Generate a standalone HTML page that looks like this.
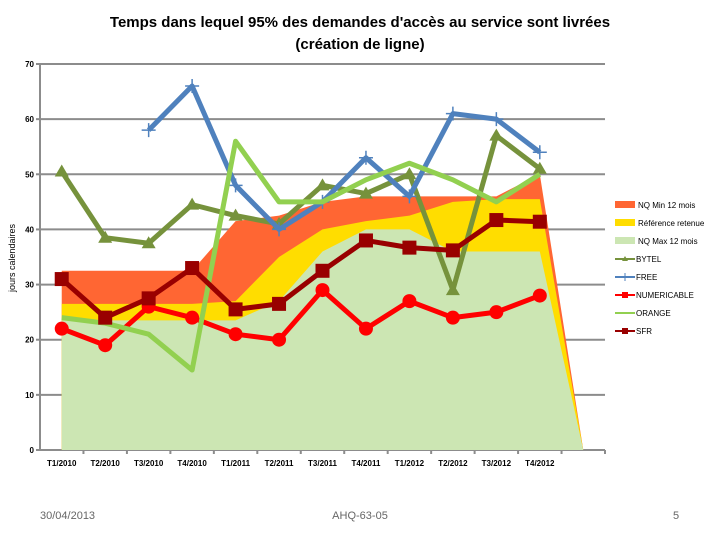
<!DOCTYPE html>
<html><head><meta charset="utf-8"><style>
body{margin:0;background:#fff;width:720px;height:540px;overflow:hidden;font-family:"Liberation Sans",sans-serif}
</style></head><body>
<svg width="720" height="540" xmlns="http://www.w3.org/2000/svg">
<text x="360" y="27" text-anchor="middle" font-size="15" font-weight="bold">Temps dans lequel 95% des demandes d'accès au service sont livrées</text>
<text x="360" y="49" text-anchor="middle" font-size="15" font-weight="bold">(création de ligne)</text>
<text transform="translate(15,258) rotate(-90)" text-anchor="middle" font-size="9">jours calendaires</text>
<g id="grid"></g><g id="areas"></g><g id="lines"></g><g id="axes"></g><g id="legend"></g>
<text x="40" y="519" font-size="11" fill="#666">30/04/2013</text>
<text x="360" y="519" font-size="11" fill="#666" text-anchor="middle">AHQ-63-05</text>
<text x="676" y="519" font-size="11" fill="#666" text-anchor="middle">5</text>
</svg>
<script>
const categories=["T1/2010","T2/2010","T3/2010","T4/2010","T1/2011","T2/2011","T3/2011","T4/2011","T1/2012","T2/2012","T3/2012","T4/2012",""];
const yTicks=[0,10,20,30,40,50,60,70];
const nqMin=[32.5,32.5,32.5,32.5,41.5,42.5,45,46,46,46,46,50,0];
const reference=[26.5,26.5,26.5,26.5,27,35,40,41.5,42.5,45,45.5,45.5,0];
const nqMax=[23.5,23.5,23.5,23.5,23.5,27,36,40,40,36,36,36,0];
const bytel=[50.5,38.5,37.5,44.5,42.5,41,48,46.5,50,29,57,51];
const free=[null,null,58,66,48,40,45,53,46,61,60,54];
const numericable=[22,19,26,24,21,20,29,22,27,24,25,28];
const orange=[24,23,21,14.5,56,45,45,49,52,49,45,50];
const sfr=[31,24,27.5,33,25.5,26.5,32.5,38,36.7,36.2,41.7,41.4];
const NS="http://www.w3.org/2000/svg";
const X0=40,X1=605,Y0=450,Y1=64;
const step=(X1-X0)/categories.length;
const xs=i=>X0+step*(i+0.5);
const ys=v=>Y0-(v/70)*(Y0-Y1);
function mk(tag,attrs,parent){const e=document.createElementNS(NS,tag);for(const k in attrs)e.setAttribute(k,attrs[k]);parent.appendChild(e);return e;}
const grid=document.getElementById('grid'),axes=document.getElementById('axes'),areas=document.getElementById('areas'),lines=document.getElementById('lines'),legend=document.getElementById('legend');
yTicks.forEach(t=>{
 const l=mk('line',{x1:X0,x2:X1,y1:ys(t),y2:ys(t),stroke:'#8c8c8c','stroke-width':2},grid);
 
 
 const tx=mk('text',{x:X0-6,y:ys(t)+3,'text-anchor':'end','font-size':8,'font-weight':'bold'},axes);tx.textContent=t;
 
 
 mk('line',{x1:X0-4,x2:X0,y1:ys(t),y2:ys(t),stroke:'#8c8c8c','stroke-width':2},axes);
});
const ax=mk('line',{x1:X0,x2:X0,y1:Y1,y2:Y0,stroke:'#8c8c8c','stroke-width':2},axes);


categories.forEach((c,i)=>{
 mk('line',{x1:X0+step*(i+1),x2:X0+step*(i+1),y1:Y0,y2:Y0+4,stroke:'#8c8c8c','stroke-width':2},axes);
 const tx=mk('text',{x:xs(i),y:Y0+16,'text-anchor':'middle','font-size':8,'font-weight':'bold'},axes);tx.textContent=c;
 
 
});
function area(vals,color,name){
 let d='M'+xs(0)+','+Y0;vals.forEach((v,i)=>d+=' L'+xs(i)+','+ys(v));d+=' L'+xs(vals.length-1)+','+Y0+' Z';
 const p=mk('path',{d:d,fill:color},areas);
 
 
}
area(nqMin,'#ff6633','area-nq-min');
area(reference,'#ffdd00','area-reference');
area(nqMax,'#cce6b3','area-nq-max');
function marker(kind,x,y,color,g){
 if(kind==='tri')mk('path',{d:`M${x},${y-7} L${x+7},${y+5} L${x-7},${y+5} Z`,fill:color},g);
 else if(kind==='plus'){mk('path',{d:`M${x-7},${y} H${x+7} M${x},${y-7} V${y+7}`,stroke:color,'stroke-width':1.5},g);}
 else if(kind==='circle')mk('circle',{cx:x,cy:y,r:7,fill:color},g);
 else if(kind==='square')mk('rect',{x:x-7,y:y-7,width:14,height:14,fill:color},g);
}
function series(vals,color,kind,name,w){
 const g=mk('g',{},lines);
 
 
 let d='',pen=false;
 vals.forEach((v,i)=>{if(v==null){pen=false;return;}d+=(pen?' L':' M')+xs(i)+','+ys(v);pen=true;});
 mk('path',{d:d,fill:'none',stroke:color,'stroke-width':w,'stroke-linejoin':'round'},g);
 if(kind)vals.forEach((v,i)=>{if(v!=null)marker(kind,xs(i),ys(v),color,g);});
}
series(bytel,'#76923c','tri','series-bytel',5);
series(free,'#4f81bd','plus','series-free',5);
series(numericable,'#ff0000','circle','series-numericable',5);
series(orange,'#92d050',null,'series-orange',5);
series(sfr,'#990000','square','series-sfr',5);
const leg=[['NQ Min 12 mois','#ff6633','box'],['Référence retenue','#ffdd00','box'],['NQ Max 12 mois','#cce6b3','box'],['BYTEL','#76923c','tri'],['FREE','#4f81bd','plus'],['NUMERICABLE','#ff0000','sq'],['ORANGE','#92d050','none'],['SFR','#990000','sq']];
leg.forEach((e,i)=>{
 const y=205+i*18;const g=mk('g',{},legend);
 
 
 if(e[2]==='box')mk('rect',{x:615,y:y-4,width:20,height:7,fill:e[1]},g);
 else{mk('line',{x1:615,x2:635,y1:y,y2:y,stroke:e[1],'stroke-width':2},g);
  if(e[2]==='tri')mk('path',{d:`M625,${y-3} L628,${y+2} L622,${y+2} Z`,fill:e[1]},g);
  if(e[2]==='plus')mk('path',{d:`M621,${y} H629 M625,${y-4} V${y+4}`,stroke:e[1],'stroke-width':1},g);
  if(e[2]==='sq')mk('rect',{x:622,y:y-3,width:6,height:6,fill:e[1]},g);}
 const t=mk('text',{x:e[2]==='box'?638:636,y:y+3,'font-size':8},g);t.textContent=e[0];
});
</script>
</body></html>
